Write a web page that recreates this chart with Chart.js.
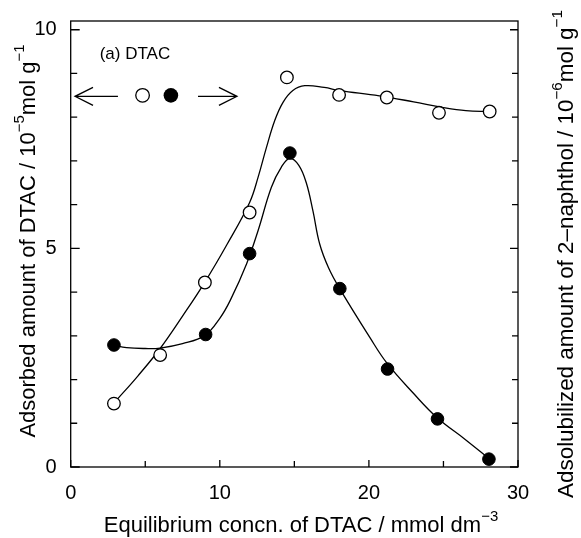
<!DOCTYPE html>
<html>
<head>
<meta charset="utf-8">
<script src="https://cdn.jsdelivr.net/npm/chart.js@4"></script>
<style>
  html, body { margin: 0; padding: 0; background: #fff; }
  #wrap { width: 581px; height: 538px; }
</style>
</head>
<body>
<div id="wrap"><canvas id="c" width="581" height="538"></canvas></div>
<script>
// ---- data ----
const openX   = [2.9, 6.0, 9.0, 12.0, 14.5, 18.0, 21.2, 24.7, 28.1];
const openY   = [1.45, 2.56, 4.22, 5.82, 8.91, 8.51, 8.45, 8.10, 8.13];
const filledX = [2.9, 9.05, 12.0, 14.7, 18.05, 21.25, 24.6, 28.05];
const filledY = [2.79, 3.03, 4.88, 7.18, 4.08, 2.24, 1.10, 0.18];

// smooth fitted curves
const openCurveX = [2.97, 4.5, 6.0, 7.5, 9.0, 10.5, 12.0, 12.57, 13.13, 13.68, 14.24, 14.9, 15.7, 17.0, 18.04, 20.7, 23.0, 25.0, 26.5, 28.1];
const openCurveY = [1.49, 2.08, 2.71, 3.45, 4.23, 5.1, 6.05, 6.63, 7.31, 7.92, 8.34, 8.61, 8.72, 8.68, 8.61, 8.49, 8.35, 8.22, 8.15, 8.13];
const filledCurveX = [2.85, 3.75, 5.0, 6.0, 7.5, 9.0, 10.0, 10.7, 11.8, 12.57, 13.46, 14.13, 14.7, 15.3, 15.8, 16.25, 16.7, 17.3, 18.04, 20.05, 21.2, 23.0, 24.6, 26.5, 28.03];
const filledCurveY = [2.79, 2.73, 2.71, 2.72, 2.82, 3.01, 3.4, 3.81, 4.65, 5.41, 6.4, 6.86, 7.06, 6.9, 6.5, 5.85, 5.1, 4.55, 4.08, 2.97, 2.38, 1.68, 1.12, 0.62, 0.2];

const xTickLabels = [0, 10, 20, 30];
const yTickLabels = [0, 5, 10];

// legend items (data units)
const legendY = 8.5;
const legendOpenX = 4.82;
const legendFilledX = 6.72;
const arrowLeft = [3.17, 0.29];   // from -> tip
const arrowRight = [8.54, 11.15]; // from -> tip

const panelLabel = '(a) DTAC';
const xTitle = [['Equilibrium concn. of DTAC / mmol dm', false], ['\u22123', true]];
const yTitle = [['Adsorbed amount of DTAC / 10', false], ['\u22125', true], ['mol g', false], ['\u22121', true]];
const y2Title = [['Adsolubilized amount of 2\u2013naphthol / 10', false], ['\u22126', true], ['mol g', false], ['\u22121', true]];

const FONT = '"Liberation Sans", Arial, Helvetica, sans-serif';
const pts = (xs, ys) => xs.map((x, i) => ({ x, y: ys[i] }));

function richWidth(ctx, segs, size) {
  let w = 0;
  for (const [t, sup] of segs) {
    ctx.font = (sup ? size * 0.68 : size) + 'px ' + FONT;
    w += ctx.measureText(t).width;
  }
  return w;
}
function drawRich(ctx, segs, cx, cy, rot, size) {
  ctx.save();
  ctx.translate(cx, cy);
  ctx.rotate(rot);
  ctx.fillStyle = '#000';
  ctx.textBaseline = 'alphabetic';
  ctx.textAlign = 'left';
  let x = -richWidth(ctx, segs, size) / 2;
  for (const [t, sup] of segs) {
    ctx.font = (sup ? size * 0.68 : size) + 'px ' + FONT;
    ctx.fillText(t, x, sup ? -size * 0.5 : 0);
    x += ctx.measureText(t).width;
  }
  ctx.restore();
}

const decor = {
  id: 'decor',
  afterDatasetsDraw(chart) {
    const { ctx, chartArea: a, scales } = chart;
    const xs = scales.x, ys = scales.y;
    ctx.save();
    ctx.strokeStyle = '#000';
    ctx.lineWidth = 1.3;
    // frame
    ctx.strokeRect(a.left, a.top, a.right - a.left, a.bottom - a.top);
    // inward ticks
    ctx.beginPath();
    for (let v = 0; v <= 10; v++) {
      const py = ys.getPixelForValue(v);
      const lenL = v % 5 === 0 ? 9 : 6.5;
      const lenR = v % 5 === 0 ? 8 : 6;
      ctx.moveTo(a.left, py); ctx.lineTo(a.left + lenL, py);
      ctx.moveTo(a.right, py); ctx.lineTo(a.right - lenR, py);
    }
    for (let v = 0; v <= 30; v += 5) {
      const px = xs.getPixelForValue(v);
      const len = v % 10 === 0 ? 7 : 6;
      ctx.moveTo(px, a.bottom); ctx.lineTo(px, a.bottom - len);
    }
    ctx.stroke();

    // legend arrows
    const ly = ys.getPixelForValue(legendY) + 1;
    const drawArrow = (fromV, tipV) => {
      const x0 = xs.getPixelForValue(fromV), x1 = xs.getPixelForValue(tipV);
      const dir = Math.sign(x1 - x0);
      ctx.beginPath();
      ctx.moveTo(x0, ly); ctx.lineTo(x1, ly);
      ctx.moveTo(x1 - dir * 18, ly - 9); ctx.lineTo(x1, ly); ctx.lineTo(x1 - dir * 18, ly + 9);
      ctx.stroke();
    };
    drawArrow(arrowLeft[0], arrowLeft[1]);
    drawArrow(arrowRight[0], arrowRight[1]);
    // legend circles
    const cy = ys.getPixelForValue(legendY);
    ctx.beginPath();
    ctx.arc(xs.getPixelForValue(legendOpenX), cy, 6.8, 0, Math.PI * 2);
    ctx.fillStyle = '#fff'; ctx.fill(); ctx.stroke();
    ctx.beginPath();
    ctx.arc(xs.getPixelForValue(legendFilledX), cy, 7.3, 0, Math.PI * 2);
    ctx.fillStyle = '#000'; ctx.fill();

    // panel label
    ctx.fillStyle = '#000';
    ctx.font = '17px ' + FONT;
    ctx.textBaseline = 'alphabetic';
    ctx.textAlign = 'left';
    ctx.fillText(panelLabel, a.left + 29, a.top + 38);

    // axis titles
    drawRich(ctx, xTitle, 301, 531.5, 0, 22);
    drawRich(ctx, yTitle, 35, 241, -Math.PI / 2, 22);
    drawRich(ctx, y2Title, 573, 254, -Math.PI / 2, 22.4);
    ctx.restore();
  }
};

const tickFont = { family: FONT, size: 20 };

new Chart(document.getElementById('c'), {
  type: 'scatter',
  data: {
    datasets: [
      { type: 'line', data: pts(openCurveX, openCurveY), yAxisID: 'y', borderColor: '#000', borderWidth: 1.3,
        pointRadius: 0, tension: 0.4, fill: false, order: 3 },
      { type: 'line', data: pts(filledCurveX, filledCurveY), yAxisID: 'y2', borderColor: '#000', borderWidth: 1.3,
        pointRadius: 0, tension: 0.4, fill: false, order: 3 },
      { data: pts(openX, openY), yAxisID: 'y', pointRadius: 6.3, pointBackgroundColor: '#fff',
        pointBorderColor: '#000', pointBorderWidth: 1.3, showLine: false, order: 1 },
      { data: pts(filledX, filledY), yAxisID: 'y2', pointRadius: 6.3, pointBackgroundColor: '#000',
        pointBorderColor: '#000', pointBorderWidth: 1, showLine: false, order: 1 }
    ]
  },
  options: {
    responsive: false,
    animation: false,
    events: [],
    layout: { padding: { top: 21, left: 0, right: 0, bottom: 0 } },
    plugins: { legend: { display: false }, tooltip: { enabled: false } },
    scales: {
      x: {
        type: 'linear', min: 0, max: 30,
        grid: { display: false }, border: { display: false },
        ticks: { stepSize: 5, autoSkip: false, maxRotation: 0, color: '#000', font: tickFont, padding: 6,
          callback: v => xTickLabels.includes(v) ? String(v) : '' },
        afterFit: s => { s.height = 71; }
      },
      y: {
        type: 'linear', position: 'left', min: 0, max: 10.2,
        grid: { display: false }, border: { display: false },
        ticks: { stepSize: 1, includeBounds: false, autoSkip: false, color: '#000', font: tickFont, padding: 6,
          callback: v => yTickLabels.includes(v) ? String(v) : '' },
        afterFit: s => { s.width = 70.7; }
      },
      y2: {
        type: 'linear', position: 'right', min: 0, max: 10.2,
        grid: { display: false }, border: { display: false },
        ticks: { display: false, stepSize: 1, includeBounds: false },
        afterFit: s => { s.width = 63; }
      }
    }
  },
  plugins: [decor]
});
</script>
</body>
</html>
